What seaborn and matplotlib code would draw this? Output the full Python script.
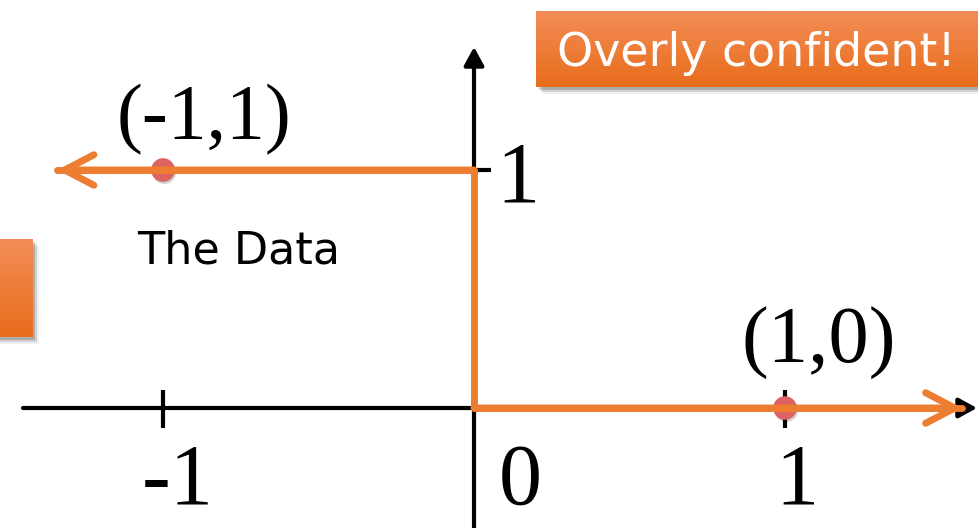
import numpy as np
import pandas as pd
import seaborn as sns
import matplotlib.pyplot as plt
import matplotlib.patheffects as pe
from matplotlib.patches import FancyArrowPatch, Rectangle

''' DATA '''
point_x = [-1, 1]
point_y = [1, 0]
point_labels = ['(-1,1)', '(1,0)']

step_x = [-1.34, 0, 0, 1.57]
step_y = [1, 1, 0, 0]

xtick_vals = [-1, 1]
ytick_vals = [1]

box_text = 'Overly confident!'
side_text = 'The Data'

ORANGE = '#ED7D31'
DOT = '#DE6262'
SERIF = ['Liberation Serif', 'DejaVu Serif']
SANS = ['DejaVu Sans']

# pixel layout of the slide -> data units
X0, SX = 474, 311
Y0, SY = 408, 238


def dx(px):
    return (px - X0) / SX


def dy(py):
    return (Y0 - py) / SY


def gradient_box(ax, x0, y0, x1, y1):
    # soft shadow first, then the orange gradient
    for off, a in [(3, 0.18), (5, 0.12), (7, 0.06)]:
        ax.add_patch(Rectangle((dx(x0 + off), dy(y1 + off)), dx(x1) - dx(x0), dy(y0) - dy(y1),
                               color='black', alpha=a, lw=0, zorder=1))
    grad = np.linspace(0, 1, 64).reshape(-1, 1)
    cmap = sns.blend_palette(['#F38D57', '#E86D1B'], as_cmap=True)
    ax.imshow(grad, cmap=cmap, aspect='auto', zorder=2,
              extent=(dx(x0), dx(x1), dy(y1), dy(y0)))


sns.set_theme(style='white')
fig = plt.figure(figsize=(9.79, 5.28), dpi=100)
ax = fig.add_axes([0, 0, 1, 1])

# axes with arrow heads
ax.add_patch(FancyArrowPatch((dx(23), 0), (dx(977), 0), arrowstyle='-|>,head_length=0.55,head_width=0.3',
                             mutation_scale=20, lw=3, color='black', shrinkA=0, shrinkB=0, zorder=3))
ax.add_patch(FancyArrowPatch((0, dy(530)), (0, dy(47)), arrowstyle='-|>,head_length=0.55,head_width=0.3',
                             mutation_scale=20, lw=3, color='black', shrinkA=0, shrinkB=0, zorder=3))
ax.vlines(xtick_vals, dy(428), dy(390), color='black', lw=3, zorder=3)
ax.hlines(ytick_vals, 0, dx(491), color='black', lw=3, zorder=3)

# the data points
sns.scatterplot(x=point_x, y=point_y, s=290, color=DOT, edgecolor='none', ax=ax, zorder=4,
                path_effects=[pe.SimplePatchShadow(offset=(1, -1.5), shadow_rgbFace='black', alpha=0.18),
                              pe.Normal()])

# overly confident step fit
sns.lineplot(x=step_x, y=step_y, sort=False, estimator=None, color=ORANGE, lw=5, ax=ax, zorder=5,
             solid_joinstyle='round', solid_capstyle='round')
for start, end in [((step_x[1], step_y[1]), (step_x[0], step_y[0])),
                   ((step_x[2], step_y[2]), (step_x[3], step_y[3]))]:
    ax.add_patch(FancyArrowPatch(start, end, arrowstyle='->,head_length=1.05,head_width=0.55',
                                 mutation_scale=20, lw=5, color=ORANGE, shrinkA=0, shrinkB=0,
                                 capstyle='round', joinstyle='round', zorder=5))

# point labels
offsets = [(29.5, 22.5), (24.5, 32.5)]
sizes = [56, 58]
for px_, py_, lab, off, fs in zip(point_x, point_y, point_labels, offsets, sizes):
    ax.annotate(lab, (px_, py_), xytext=off, textcoords='offset points', ha='center', va='baseline',
                fontsize=fs, family=SERIF, color='black', zorder=6)

# tick labels
ax.text(dx(178), dy(504), '-1', ha='center', va='baseline', fontsize=62, family=SERIF, color='black')
ax.text(dx(520), dy(504), '0', ha='center', va='baseline', fontsize=62, family=SERIF, color='black')
ax.text(dx(797), dy(504), '1', ha='center', va='baseline', fontsize=62, family=SERIF, color='black')
ax.text(dx(518), dy(201), '1', ha='center', va='baseline', fontsize=62, family=SERIF, color='black')

# slide decorations
ax.text(dx(239), dy(263), side_text, ha='center', va='baseline', fontsize=32, family=SANS, color='black')
gradient_box(ax, 536, 11, 990, 87)
ax.text(dx(756), dy(66), box_text, ha='center', va='baseline', fontsize=33, family=SANS,
        color='white', zorder=3)
gradient_box(ax, -10, 239, 32, 337)

ax.set_xlim(dx(0), dx(979))
ax.set_ylim(dy(528), dy(0))
ax.axis('off')

fig.savefig('out.png', dpi=100)
